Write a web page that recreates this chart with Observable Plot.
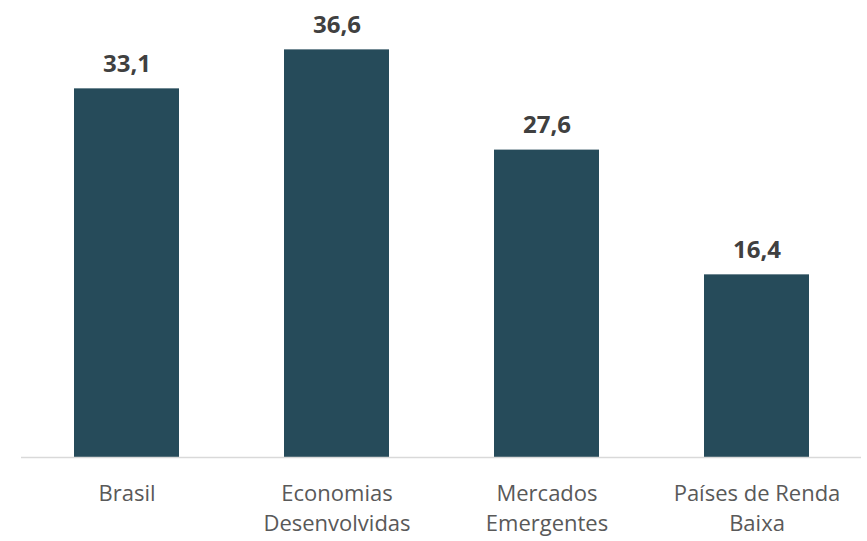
<!DOCTYPE html>
<html>
<head>
<meta charset="utf-8">
<script src="https://cdn.jsdelivr.net/npm/d3@7"></script>
<script src="https://cdn.jsdelivr.net/npm/@observablehq/plot@0.6"></script>
<style>
  html, body { margin: 0; padding: 0; background: #fff; }
  #chart svg { display: block; }
</style>
</head>
<body>
<div id="chart"></div>
<script>
const categories = ["Brasil", "Economias Desenvolvidas", "Mercados Emergentes", "Países de Renda Baixa"];
const tickLabels = ["Brasil", "Economias\nDesenvolvidas", "Mercados\nEmergentes", "Países de Renda\nBaixa"];
const values = [33.1, 36.6, 27.6, 16.4];

const data = categories.map((c, i) => ({category: c, value: values[i]}));
const fmt = v => v.toFixed(1).replace(".", ",");

const chart = Plot.plot({
  width: 867,
  height: 541,
  marginTop: 11.5,
  marginBottom: 84,
  marginLeft: 21,
  marginRight: 6,
  style: {fontFamily: "'Open Sans', sans-serif", background: "#fff"},
  x: {domain: categories, paddingInner: 0.5, paddingOuter: 0.25, label: null},
  y: {domain: [0, 40], axis: null},
  marks: [
    Plot.barY(data, {x: "category", y: "value", fill: "#264b5a"}),
    Plot.ruleY([0], {stroke: "#d9d9d9", strokeWidth: 1.5}),
    Plot.text(data, {x: "category", y: "value", text: d => fmt(d.value), lineAnchor: "bottom", dy: -17, fontSize: 24, fontWeight: "bold", fill: "#404040"}),
    Plot.axisX({tickSize: 0, tickPadding: 22, fontSize: 22, lineHeight: 1.38, color: "#595959", tickFormat: d => tickLabels[categories.indexOf(d)]})
  ]
});
document.getElementById("chart").appendChild(chart);
</script>
</body>
</html>
